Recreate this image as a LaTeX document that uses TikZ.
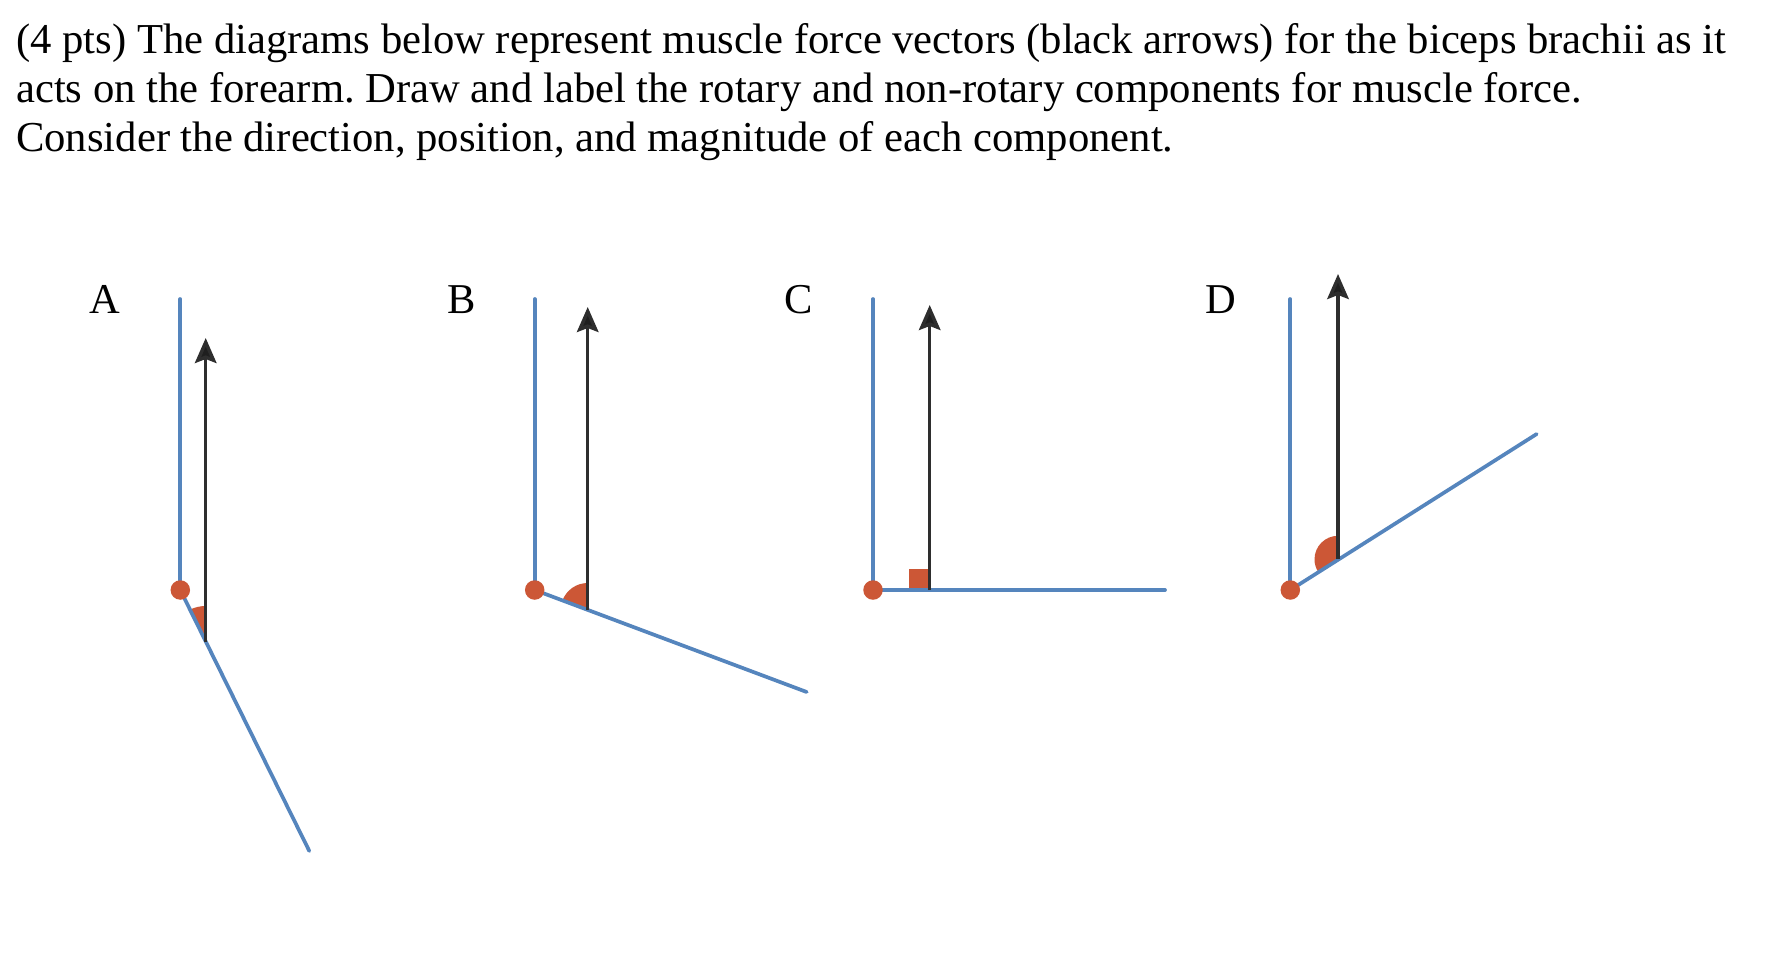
\documentclass[tikz,border=0pt]{standalone}
\usepackage{fontspec}
\setmainfont{Liberation Serif}
\usetikzlibrary{arrows.meta}
\definecolor{armblue}{HTML}{5585BD}
\definecolor{jointred}{HTML}{CC5736}
\definecolor{forceblack}{HTML}{2E2E2E}
\frenchspacing
\tikzset{
  body line/.style={anchor=base west,inner sep=0pt,font=\fontsize{42.65}{49}\selectfont},
  panel label/.style={anchor=base,inner sep=0pt,font=\fontsize{42.5}{49}\selectfont,text=black},
  arm/.style={draw=armblue,line width=3.7pt,line cap=round},
  force/.style={draw=forceblack,line width=3.4pt,-{Stealth[length=25pt,width=21.5pt,inset=4pt,fill=black!88]}},
  joint/.style={circle,fill=jointred,minimum size=19.5pt,inner sep=0pt},
  angle mark/.style={fill=jointred},
}
\begin{document}
\begin{tikzpicture}[x=1pt,y=-1pt]
\path[fill=white,use as bounding box] (0,0) rectangle (1782,970);

% question text
\node[body line] (l1) at (16,53.4) {(4 pts) The diagrams below represent muscle force vectors (black arrows) for the biceps brachii as it};
\node[body line] (l2) at (16,102.6) {acts on the forearm. Draw and label the rotary and non-rotary components for muscle force.};
\node[body line] (l3) at (16,151.6) {Consider the direction, position, and magnitude of each component.};

% panel labels
\node[panel label] (la) at (104.8,313.5) {A};
\node[panel label] (lb) at (462,313.5) {B};
\node[panel label] (lc) at (799,313.5) {C};
\node[panel label] (ld) at (1220.5,313.5) {D};

% A
\coordinate (atop) at (180.3,299);
\coordinate (apos) at (180.3,590);
\coordinate (abase) at (205.7,642);
\coordinate (aend) at (309.3,851);
\coordinate (atip) at (205.7,338);
\fill[angle mark] (abase) -- +(-90:36) arc[start angle=-90,end angle=-116,radius=36] -- cycle;
\draw[arm] (atop) -- (apos);
\draw[arm] (apos) -- (aend);
\draw[force] (abase) -- (atip);
\node[joint] (ja) at (apos) {};

% B
\coordinate (btop) at (534.7,299);
\coordinate (bpos) at (534.7,590);
\coordinate (bbase) at (587.7,610);
\coordinate (bend) at (806.7,692);
\coordinate (btip) at (587.7,307);
\fill[angle mark] (bbase) -- +(-90:27) arc[start angle=-90,end angle=-159.4,radius=27] -- cycle;
\draw[arm] (btop) -- (bpos);
\draw[arm] (bpos) -- (bend);
\draw[force] (bbase) -- (btip);
\node[joint] (jb) at (bpos) {};

% C
\coordinate (ctop) at (873,299);
\coordinate (cpos) at (873,590);
\coordinate (cbase) at (929.7,590);
\coordinate (cend) at (1165,590);
\coordinate (ctip) at (929.7,305);
\fill[angle mark] (908.7,569.3) rectangle (cbase);
\draw[arm] (ctop) -- (cpos);
\draw[arm] (cpos) -- (cend);
\draw[force] (cbase) -- (ctip);
\node[joint] (jc) at (cpos) {};

% D
\coordinate (dtop) at (1290.3,299);
\coordinate (dpos) at (1290.3,590);
\coordinate (dbase) at (1338,559.3);
\coordinate (dend) at (1536.7,434);
\coordinate (dtip) at (1338,274);
\fill[angle mark] (dbase) -- +(-90:23.5) arc[start angle=-90,end angle=-212.8,radius=23.5] -- cycle;
\draw[arm] (dtop) -- (dpos);
\draw[arm] (dpos) -- (dend);
\draw[force] (dbase) -- (dtip);
\node[joint] (jd) at (dpos) {};
\end{tikzpicture}
\end{document}
